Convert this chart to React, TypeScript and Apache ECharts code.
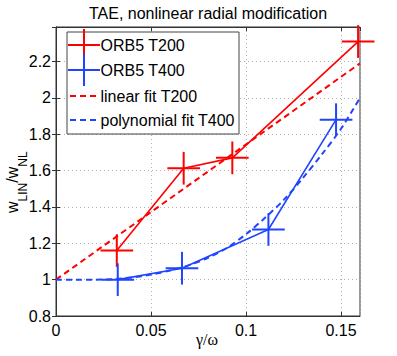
import React, { useEffect, useRef } from "react";
import * as echarts from "echarts";

// ---- data ----
const t200X = [0.032, 0.0672, 0.0928, 0.159];
const t200Y = [1.16, 1.613, 1.67, 2.31];
const t200XErr = [0.0086, 0.0086, 0.0086, 0.0086];
const t200YErr = [0.09, 0.09, 0.09, 0.09];

const t400X = [0.0325, 0.0663, 0.1118, 0.1474];
const t400Y = [1.0, 1.063, 1.276, 1.88];
const t400XErr = [0.0086, 0.0086, 0.0086, 0.0086];
const t400YErr = [0.09, 0.09, 0.09, 0.09];

const linFitX = [0, 0.16];
const linFitY = [1.0, 2.19];

const polyFitX = [0, 0.01, 0.02, 0.03, 0.04, 0.05, 0.06, 0.07, 0.08, 0.09, 0.1, 0.11, 0.12, 0.13, 0.14, 0.15, 0.16];
const polyFitY = [1.0, 1.0, 1.0, 1.003, 1.012, 1.028, 1.05, 1.08, 1.12, 1.175, 1.25, 1.34, 1.44, 1.56, 1.69, 1.83, 2.0];

const legendLabels = ["ORB5 T200", "ORB5 T400", "linear fit T200", "polynomial fit T400"];
const titleText = "TAE, nonlinear radial modification";

const RED = "#ff0000";
const BLUE = "#1f45ff";
const FONT = "'Liberation Sans', Arial, Helvetica, sans-serif";
const SERIF = "'Liberation Serif', 'DejaVu Serif', serif";

const zip = (xs: number[], ys: number[]) => xs.map((x, i) => [x, ys[i]]);
const errRows = (xs: number[], ys: number[], xe: number[], ye: number[]) =>
  xs.map((x, i) => [x, ys[i], xe[i], ye[i]]);

function errorBarSeries(name: string, rows: number[][], color: string) {
  return {
    type: "custom",
    name,
    clip: false,
    z: 5,
    data: rows,
    encode: { x: 0, y: 1 },
    renderItem: (_params: any, api: any) => {
      const x = api.value(0);
      const y = api.value(1);
      const xe = api.value(2);
      const ye = api.value(3);
      const l = api.coord([x - xe, y]);
      const r = api.coord([x + xe, y]);
      const t = api.coord([x, y + ye]);
      const b = api.coord([x, y - ye]);
      return {
        type: "group",
        children: [
          { type: "line", shape: { x1: l[0], y1: l[1], x2: r[0], y2: r[1] }, style: { stroke: color, lineWidth: 2 } },
          { type: "line", shape: { x1: b[0], y1: b[1], x2: t[0], y2: t[1] }, style: { stroke: color, lineWidth: 2 } },
        ],
      };
    },
  };
}

export default function App() {
  const ref = useRef<HTMLDivElement>(null);
  useEffect(() => {
    if (!ref.current) return;
    const chart = echarts.init(ref.current, undefined, { renderer: "svg" });

    const axisColor = "#333";
    const tickLabel = { color: "#000", fontSize: 16, fontFamily: FONT };
    const grid = { show: false, type: [1, 3], color: "#b0b0b0", width: 1 };

    // y label pieces (rotated group)
    const mainFs = 16;
    const subFs = 12;
    const wW = 0.722 * mainFs;
    const linW = (0.556 + 0.278 + 0.722) * subFs;
    const slashW = 0.278 * mainFs;
    const ylabelChildren = [
      { type: "text", x: 0, y: 12, style: { text: "w", fontSize: mainFs, fontFamily: FONT, fill: "#000", align: "left", verticalAlign: "middle" } },
      { type: "text", x: wW, y: 23, style: { text: "LIN", fontSize: subFs, fontFamily: FONT, fill: "#000", align: "left", verticalAlign: "middle" } },
      { type: "text", x: wW + linW, y: 12, style: { text: "/", fontSize: mainFs, fontFamily: FONT, fill: "#000", align: "left", verticalAlign: "middle" } },
      { type: "text", x: wW + linW + slashW, y: 12, style: { text: "w", fontSize: mainFs, fontFamily: FONT, fill: "#000", align: "left", verticalAlign: "middle" } },
      { type: "text", x: 2 * wW + linW + slashW, y: 23, style: { text: "NL", fontSize: subFs, fontFamily: FONT, fill: "#000", align: "left", verticalAlign: "middle" } },
    ];

    const legendRows = [45, 70, 96, 120];
    const legendGraphics: any[] = [
      { type: "rect", shape: { x: 67, y: 32, width: 172, height: 102 }, style: { fill: "#fff", stroke: "#444", lineWidth: 1 }, z: 50 },
      { type: "line", shape: { x1: 68, y1: legendRows[0], x2: 100, y2: legendRows[0] }, style: { stroke: RED, lineWidth: 2 }, z: 51 },
      { type: "line", shape: { x1: 84, y1: legendRows[0] - 16, x2: 84, y2: legendRows[0] + 16 }, style: { stroke: RED, lineWidth: 2 }, z: 51 },
      { type: "line", shape: { x1: 68, y1: legendRows[1], x2: 100, y2: legendRows[1] }, style: { stroke: BLUE, lineWidth: 2 }, z: 52 },
      { type: "line", shape: { x1: 84, y1: legendRows[1] - 16, x2: 84, y2: legendRows[1] + 16 }, style: { stroke: BLUE, lineWidth: 2 }, z: 52 },
      { type: "line", shape: { x1: 70, y1: legendRows[2], x2: 97, y2: legendRows[2] }, style: { stroke: RED, lineWidth: 2, lineDash: [6, 4] }, z: 51 },
      { type: "line", shape: { x1: 70, y1: legendRows[3], x2: 97, y2: legendRows[3] }, style: { stroke: BLUE, lineWidth: 2, lineDash: [6, 4] }, z: 51 },
    ];
    legendLabels.forEach((t, i) => {
      legendGraphics.push({
        type: "text",
        x: 100.5,
        y: legendRows[i],
        z: 53,
        style: { text: t, fontSize: 16, fontFamily: FONT, fill: "#000", align: "left", verticalAlign: "middle" },
      });
    });

    const fmt = (v: number) => String(+Number(v).toFixed(4));

    chart.setOption({
      animation: false,
      backgroundColor: "#fff",
      grid: { left: 56, right: 37, top: 27, bottom: 40, show: true, borderColor: axisColor, borderWidth: 1, backgroundColor: "transparent" },
      xAxis: [
        {
          type: "value", min: 0, max: 0.16, interval: 0.05,
          axisLine: { show: true, lineStyle: { color: axisColor } },
          axisTick: { show: true, inside: true, length: 4, lineStyle: { color: axisColor } },
          axisLabel: { ...tickLabel, margin: 6, formatter: fmt, showMinLabel: true, showMaxLabel: false },
          splitLine: { show: true, lineStyle: grid },
        },
        {
          type: "value", position: "top", min: 0, max: 0.16, interval: 0.05,
          axisLine: { show: true, lineStyle: { color: axisColor } },
          axisTick: { show: true, inside: true, length: 4, lineStyle: { color: axisColor } },
          axisLabel: { show: false },
          splitLine: { show: false },
        },
      ],
      yAxis: [
        {
          type: "value", min: 0.8, max: 2.39, interval: 0.2,
          axisLine: { show: true, lineStyle: { color: axisColor } },
          axisTick: { show: true, inside: true, length: 4, lineStyle: { color: axisColor } },
          axisLabel: { ...tickLabel, margin: 5, formatter: fmt, showMinLabel: true, showMaxLabel: false },
          splitLine: { show: true, lineStyle: grid },
        },
        {
          type: "value", position: "right", min: 0.8, max: 2.39, interval: 0.2,
          axisLine: { show: true, lineStyle: { color: axisColor } },
          axisTick: { show: true, inside: true, length: 4, lineStyle: { color: axisColor } },
          axisLabel: { show: false },
          splitLine: { show: false },
        },
      ],
      series: [
        {
          type: "line", name: legendLabels[2], data: zip(linFitX, linFitY), showSymbol: false, symbol: "none",
          lineStyle: { color: RED, width: 2, type: [6, 4] }, z: 3,
        },
        {
          type: "line", name: legendLabels[3], data: zip(polyFitX, polyFitY), showSymbol: false, symbol: "none", smooth: 0.3,
          lineStyle: { color: BLUE, width: 2, type: [6, 4] }, z: 3,
        },
        {
          type: "line", name: legendLabels[0], data: zip(t200X, t200Y), showSymbol: false, symbol: "none",
          lineStyle: { color: RED, width: 1.6 }, z: 4,
        },
        {
          type: "line", name: legendLabels[1], data: zip(t400X, t400Y), showSymbol: false, symbol: "none",
          lineStyle: { color: BLUE, width: 1.6 }, z: 4,
        },
        errorBarSeries(legendLabels[0] + " err", errRows(t200X, t200Y, t200XErr, t200YErr), RED),
        errorBarSeries(legendLabels[1] + " err", errRows(t400X, t400Y, t400XErr, t400YErr), BLUE),
      ],
      graphic: [
        {
          type: "text", x: 208, y: 13, z: 60,
          style: { text: titleText, fontSize: 16, fontFamily: FONT, fill: "#000", align: "center", verticalAlign: "middle" },
        },
        {
          type: "text", x: 207, y: 339, z: 60,
          style: { text: "γ/ω", fontSize: 16, fontFamily: SERIF, fill: "#000", align: "center", verticalAlign: "middle" },
        },
        { type: "group", x: 0, y: 213, rotation: Math.PI / 2, z: 60, children: ylabelChildren },
        ...legendGraphics,
      ],
    });
    return () => chart.dispose();
  }, []);

  return <div ref={ref} style={{ position: "fixed", left: 0, top: 0, width: 397, height: 356 }} />;
}
